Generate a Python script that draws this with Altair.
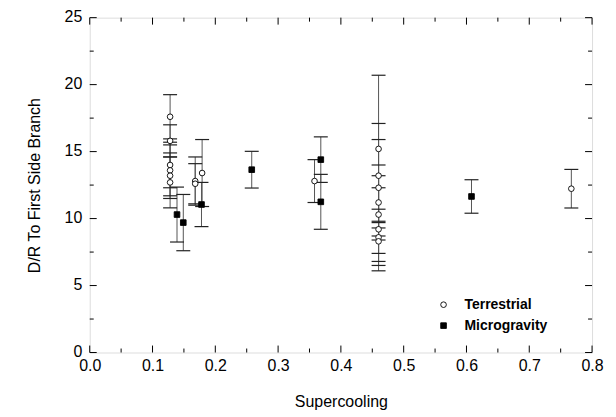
import altair as alt
import pandas as pd

# ---- data ----
terr_x = [0.128, 0.128, 0.128, 0.128, 0.128, 0.128, 0.168, 0.168, 0.179, 0.358,
          0.46, 0.46, 0.46, 0.46, 0.46, 0.46, 0.46, 0.46, 0.767]
terr_y = [17.6, 15.8, 14.0, 13.6, 13.2, 12.7, 12.8, 12.6, 13.4, 12.8,
          15.2, 13.2, 12.3, 11.2, 10.3, 9.2, 8.6, 8.3, 12.23]
terr_err = [1.65, 1.2, 1.7, 1.9, 1.7, 1.9, 1.8, 1.5, 2.5, 1.6,
            5.5, 3.9, 3.6, 2.8, 2.9, 3.1, 2.1, 1.5, 1.44]

micro_x = [0.139, 0.149, 0.178, 0.258, 0.368, 0.368, 0.608]
micro_y = [10.3, 9.7, 11.05, 13.65, 14.4, 11.25, 11.65]
micro_err = [2.05, 2.1, 1.65, 1.37, 1.7, 2.05, 1.25]

series_names = ["Terrestrial", "Microgravity"]

x_major = [0.0, 0.1, 0.2, 0.3, 0.4, 0.5, 0.6, 0.7, 0.8]
x_minor = [0.05, 0.15, 0.25, 0.35, 0.45, 0.55, 0.65, 0.75]
y_major = [0, 5, 10, 15, 20, 25]
y_minor = [2.5, 7.5, 12.5, 17.5, 22.5]

# ---- tables ----
rows = []
for xs, ys, es, name in [(terr_x, terr_y, terr_err, series_names[0]),
                         (micro_x, micro_y, micro_err, series_names[1])]:
    for a, b, e in zip(xs, ys, es):
        rows.append({"series": name, "x": a, "y": b, "lo": b - e, "hi": b + e})
df = pd.DataFrame(rows)

W, H = 504, 336
FONT = "Liberation Sans"

xscale = alt.Scale(domain=[0, 0.8], nice=False, zero=False)
yscale = alt.Scale(domain=[0, 25], nice=False, zero=False)
xaxis = alt.Axis(title="Supercooling", values=x_major, format=".1f", ticks=False,
                 grid=False, domain=False, labelFont=FONT, labelFontSize=16,
                 labelColor="black", labelPadding=5, titleFont=FONT,
                 titleFontSize=16, titleFontWeight="normal", titleColor="black",
                 titlePadding=20, labelFlush=False)
yaxis = alt.Axis(title="D/R To First Side Branch", values=y_major, ticks=False,
                 grid=False, domain=False, labelFont=FONT, labelFontSize=16,
                 labelColor="black", labelPadding=8, labelOffset=-1, titleFont=FONT,
                 titleFontSize=16, titleFontWeight="normal", titleColor="black",
                 titlePadding=22, labelFlush=False)


def X(field):
    return alt.X(field, type="quantitative", scale=xscale, axis=xaxis)


def Y(field):
    return alt.Y(field, type="quantitative", scale=yscale, axis=yaxis)


base = alt.Chart(df)

bars = base.mark_rule(color="#555555", strokeWidth=1).encode(
    x=X("x"), y=Y("lo"), y2="hi")
cap_lo = base.mark_rule(color="#222222", strokeWidth=1.2, xOffset=-7, x2Offset=7).encode(
    x=X("x"), x2="x", y=Y("lo"))
cap_hi = base.mark_rule(color="#222222", strokeWidth=1.2, xOffset=-7, x2Offset=7).encode(
    x=X("x"), x2="x", y=Y("hi"))

leg = alt.Legend(title=None, orient="none", legendX=348, legendY=281,
                 labelFont=FONT, labelFontWeight="bold", labelFontSize=14,
                 labelColor="black", symbolSize=32, rowPadding=7,
                 labelOffset=14, symbolStrokeWidth=0.9, padding=0)

points = base.mark_point(size=32, opacity=1, filled=True, strokeWidth=0.9).encode(
    x=X("x"), y=Y("y"),
    shape=alt.Shape("series:N", scale=alt.Scale(domain=series_names, range=["circle", "square"]),
                    legend=leg),
    fill=alt.Fill("series:N", scale=alt.Scale(domain=series_names, range=["white", "black"]),
                  legend=leg),
    stroke=alt.Stroke("series:N", scale=alt.Scale(domain=series_names, range=["black", "black"]),
                      legend=leg),
)

# inward ticks
xmaj = pd.DataFrame({"x": x_major})
xmin = pd.DataFrame({"x": x_minor})
ymaj = pd.DataFrame({"y": y_major})
ymin = pd.DataFrame({"y": y_minor})

tick_layers = []
for d, ln in [(xmaj, 7), (xmin, 4)]:
    tick_layers.append(alt.Chart(d).mark_rule(color="black").encode(
        x=X("x"), y=alt.value(H), y2=alt.value(H - ln)))
    tick_layers.append(alt.Chart(d).mark_rule(color="black").encode(
        x=X("x"), y=alt.value(0), y2=alt.value(ln)))
for d, ln in [(ymaj, 7), (ymin, 4)]:
    tick_layers.append(alt.Chart(d).mark_rule(color="black").encode(
        y=Y("y"), x=alt.value(0), x2=alt.value(ln)))
    tick_layers.append(alt.Chart(d).mark_rule(color="black").encode(
        y=Y("y"), x=alt.value(W), x2=alt.value(W - ln)))

chart = alt.layer(bars, cap_lo, cap_hi, *tick_layers, points).properties(
    width=W, height=H,
    padding={"left": 18, "top": 0, "right": 4, "bottom": 4},
).configure_view(stroke="black", strokeWidth=1.3).configure(background="white")

chart.save("out.html", embed_options={"renderer": "svg", "actions": False})
